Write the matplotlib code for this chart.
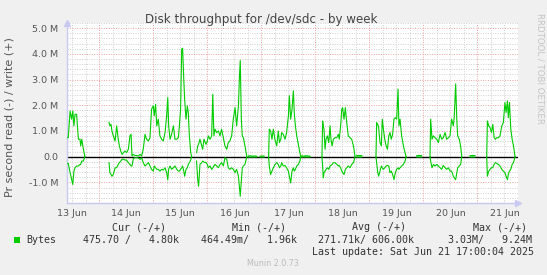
import numpy as np
import matplotlib
matplotlib.use("Agg")
import matplotlib.pyplot as plt
from matplotlib.patches import Rectangle

# Time in hours since 13 Jun 00:00. Throughput in MB/s (M = 1e6 bytes).
# write is drawn above zero, read is drawn mirrored below zero.
jun13_t = [9.5, 10.2, 11.0, 11.4, 11.7, 12.2, 12.7, 13.2, 13.9, 14.7, 15.4, 15.7, 16.2, 16.9, 17.6]
jun13_write = [0.74, 0.74, 1.78, 1.59, 1.46, 1.78, 1.20, 1.65, 1.65, 0.68, 0.68, 0.42, 0.68, 0.29, 0.0]
jun13_read = [0.26, 0.26, 0.62, 0.76, 0.89, 1.08, 0.56, 0.43, 0.36, 0.36, 0.30, 0.30, 0.17, 0.17, 0.0]

jun14_t = [28.3, 28.7, 29.2, 29.6, 30.2, 31.0, 31.7, 32.4, 32.9, 33.5, 34.1, 34.7, 35.4, 36.1, 36.9,
           37.6, 38.1, 38.5, 39.1, 39.8, 40.6, 41.3, 42.1, 42.8,
           43.5, 44.3, 45.0, 45.8, 46.5, 47.2, 48.0, 48.4, 49.0, 49.5, 50.2, 50.9, 51.7, 52.4, 53.2,
           53.9, 54.4, 54.8, 55.4, 56.1, 56.9, 57.6, 58.4, 59.1, 59.5, 60.1, 60.6, 61.0, 61.5, 61.9,
           62.5, 63.1, 63.5, 64.0, 64.6, 65.0]
jun14_write = [1.33, 1.20, 1.26, 1.00, 0.81, 0.61, 1.20, 0.68, 0.42, 0.22, 0.09, 0.16, 0.22, 0.16, 0.29,
               0.81, 0.87, 0.03, 0.09, 0.05, 0.05, 0.03, 0.09, 0.03,
               0.29, 0.87, 0.68, 0.61, 0.74, 1.85, 1.98, 1.59, 2.04, 1.20, 1.46, 0.81, 0.68, 0.61, 0.94,
               1.59, 2.30, 1.20, 0.68, 0.87, 1.20, 0.68, 0.68, 0.74, 1.13, 1.85, 4.19, 4.22, 3.02, 2.24,
               1.46, 1.98, 1.72, 0.81, 0.16, 0.0]
jun14_read = [0.23, 0.62, 0.69, 0.76, 0.69, 0.43, 0.43, 0.30, 0.23, 0.17, 0.10, 0.10, 0.13, 0.13, 0.23,
              0.30, 0.36, 0.36, 0.08, 0.04, 0.04, 0.05, 0.10, 0.04,
              0.23, 0.36, 0.30, 0.23, 0.36, 0.49, 0.56, 0.36, 0.43, 0.49, 0.49, 0.56, 0.49, 0.52, 0.43,
              0.62, 0.90, 0.49, 0.36, 0.49, 0.43, 0.36, 0.49, 0.56, 0.56, 0.49, 0.43, 0.36, 0.56, 0.76,
              0.49, 0.43, 0.30, 0.23, 0.13, 0.0]

jun16_t = [67.2, 67.7, 68.1, 68.7, 69.5, 69.9, 70.5, 71.4, 72.0, 72.4, 73.2, 73.9, 74.4, 74.9, 75.4,
           76.1, 76.9, 77.6, 78.3, 79.1, 79.8, 80.6, 81.3, 82.0, 82.8, 83.5, 84.3, 85.0, 85.8, 86.2,
           86.6, 87.1, 87.5, 88.0, 88.7, 89.5]
jun16_write = [0.16, 0.42, 0.48, 0.68, 0.42, 0.29, 0.68, 0.48, 0.61, 0.81, 0.68, 0.81, 2.43, 0.81, 1.07,
               0.94, 1.00, 0.81, 1.07, 0.74, 0.42, 0.29, 0.55, 0.61, 0.81, 1.46, 1.91, 1.20, 1.98, 3.02,
               3.74, 1.46, 0.81, 0.74, 0.42, 0.0]
jun16_read = [0.17, 0.89, 1.15, 0.30, 0.23, 0.17, 0.21, 0.23, 0.30, 0.43, 0.36, 0.49, 0.43, 0.36, 0.30,
              0.36, 0.43, 0.30, 0.23, 0.36, 0.04, 0.10, 0.43, 0.49, 0.43, 0.49, 0.62, 0.49, 0.76, 1.15,
              1.54, 0.89, 0.43, 0.36, 0.30, 0.0]

jun17_t = [99.2, 99.5, 100.1, 100.7, 101.3, 102.0, 102.8, 103.5, 104.0, 104.6, 105.0, 105.7, 106.5,
           107.2, 108.0, 108.4, 109.0, 109.6, 110.2, 110.6, 111.1, 111.7, 112.4, 113.1, 113.5]
jun17_write = [0.0, 1.07, 1.00, 0.68, 1.07, 0.68, 0.42, 1.00, 0.55, 0.68, 0.94, 0.87, 0.68,
               0.94, 1.59, 2.37, 1.46, 1.85, 2.56, 1.72, 1.20, 0.81, 0.48, 0.16, 0.0]
jun17_read = [0.0, 0.36, 0.69, 0.56, 0.43, 0.30, 0.23, 0.30, 0.43, 0.36, 0.23, 0.36, 0.34,
              0.43, 0.56, 0.76, 1.02, 0.56, 0.43, 0.56, 0.49, 0.36, 0.30, 0.17, 0.0]

jun18_t = [122.9, 123.2, 123.5, 123.8, 124.3, 124.7, 125.3, 125.9, 126.5, 126.9, 127.4, 128.0, 128.7,
           129.5, 130.2, 130.6, 131.2, 131.7, 132.1, 132.7, 133.3, 133.9, 134.6, 135.4, 136.1, 136.9, 137.6]
jun18_write = [0.0, 1.39, 1.20, 1.07, 0.29, 0.68, 0.81, 0.55, 1.20, 0.68, 0.42, 0.68, 0.74,
               0.74, 0.87, 0.68, 1.20, 1.85, 1.91, 1.46, 1.91, 1.33, 0.81, 0.74, 0.68, 0.42, 0.0]
jun18_read = [0.0, 0.36, 0.82, 0.62, 0.56, 0.49, 0.43, 0.49, 0.36, 0.34, 0.30, 0.23, 0.23,
              0.30, 0.36, 0.34, 0.43, 0.56, 0.62, 0.69, 0.49, 0.43, 0.36, 0.43, 0.30, 0.23, 0.0]

jun19_t = [146.9, 147.2, 147.7, 148.1, 148.7, 149.3, 149.7, 150.2, 150.8, 151.4, 152.0, 152.6, 153.1,
           153.7, 154.3, 154.9, 155.5, 156.1, 156.7, 157.1, 157.6, 158.3, 159.1, 159.8, 160.3]
jun19_write = [0.0, 1.33, 1.26, 1.13, 0.55, 0.42, 1.46, 1.07, 0.68, 0.42, 0.29, 0.81, 0.94,
               0.68, 0.87, 1.46, 1.52, 1.46, 2.63, 1.20, 1.46, 0.81, 0.42, 0.16, 0.0]
jun19_read = [0.0, 0.23, 0.62, 0.76, 0.56, 0.36, 0.43, 0.49, 0.43, 0.36, 0.34, 0.36, 0.62,
              0.56, 0.69, 0.89, 0.62, 0.49, 0.43, 0.49, 0.43, 0.36, 0.30, 0.17, 0.0]

jun20_t = [170.9, 171.2, 171.8, 172.4, 173.1, 173.9, 174.6, 175.4, 176.1, 176.8, 177.6, 178.3, 179.1,
           179.8, 180.5, 181.3, 181.7, 182.3, 182.8, 183.2, 183.9, 184.5, 185.0]
jun20_write = [0.0, 1.46, 0.68, 0.81, 0.74, 0.68, 0.55, 0.87, 0.68, 0.74, 0.94, 0.68, 0.74,
               0.81, 1.46, 1.20, 1.59, 2.83, 1.46, 0.81, 0.68, 0.42, 0.0]
jun20_read = [0.0, 0.17, 0.43, 0.30, 0.36, 0.30, 0.36, 0.43, 0.49, 0.34, 0.43, 0.49, 0.43,
              0.56, 0.56, 0.76, 0.82, 0.89, 0.62, 0.43, 0.36, 0.30, 0.0]

jun21_t = [196.1, 196.4, 197.0, 197.6, 198.2, 198.8, 199.4, 200.0, 200.5, 201.3, 202.0, 202.8, 203.5,
           204.2, 204.7, 205.3, 205.7, 206.2, 206.8, 207.4, 208.0, 208.7]
jun21_write = [0.0, 1.39, 1.20, 1.13, 0.94, 1.26, 0.74, 0.68, 0.74, 0.74, 0.81, 1.20, 1.33,
               2.11, 1.72, 2.17, 1.52, 2.11, 1.07, 0.68, 0.42, 0.0]
jun21_read = [0.0, 0.76, 0.56, 0.49, 0.43, 0.43, 0.30, 0.23, 0.26, 0.30, 0.36, 0.49, 0.56,
              0.62, 0.76, 0.89, 0.69, 0.56, 0.49, 0.30, 0.23, 0.0]

# short idle periods with data close to zero
idle_t = [[90.2, 91.0, 92.0, 93.0, 93.9], [95.4, 96.3, 97.2], [113.9, 114.8, 115.7, 116.6, 117.6],
          [138.3, 139.5, 140.6], [165.0, 166.1, 167.2], [188.7, 189.8, 190.9]]
idle_write = [[0.03, 0.04, 0.02, 0.03, 0.02], [0.02, 0.03, 0.02], [0.03, 0.02, 0.04, 0.03, 0.02],
              [0.04, 0.05, 0.04], [0.04, 0.05, 0.04], [0.04, 0.05, 0.04]]
idle_read = [[0.01, 0.01, 0.01, 0.01, 0.01], [0.01, 0.01, 0.01], [0.01, 0.01, 0.01, 0.01, 0.01],
             [0.01, 0.01, 0.01], [0.01, 0.01, 0.01], [0.01, 0.01, 0.01]]

day_names = ["13 Jun", "14 Jun", "15 Jun", "16 Jun", "17 Jun", "18 Jun", "19 Jun", "20 Jun", "21 Jun"]
y_ticks = [-1.0, 0.0, 1.0, 2.0, 3.0, 4.0, 5.0]

legend_header = ["Cur (-/+)", "Min (-/+)", "Avg (-/+)", "Max (-/+)"]
legend_values = ["475.70 /   4.80k", "464.49m/   1.96k", "271.71k/ 606.00k", "3.03M/   9.24M"]

GREEN = "#00CC00"
W, H = 547, 275


def fx(px):
    return px / W


def fy(py):
    return 1 - py / H


blocks = [(jun13_t, jun13_write, jun13_read), (jun14_t, jun14_write, jun14_read),
          (jun16_t, jun16_write, jun16_read), (jun17_t, jun17_write, jun17_read),
          (jun18_t, jun18_write, jun18_read), (jun19_t, jun19_write, jun19_read),
          (jun20_t, jun20_write, jun20_read), (jun21_t, jun21_write, jun21_read)]
blocks += list(zip(idle_t, idle_write, idle_read))
blocks.sort(key=lambda b: b[0][0])

t_all, w_all, r_all = [], [], []
for t, w, r in blocks:
    t_all += list(t) + [np.nan]
    w_all += list(w) + [np.nan]
    r_all += list(r) + [np.nan]
t_all = np.array(t_all)
w_all = np.array(w_all)
r_all = -np.array(r_all)

fig = plt.figure(figsize=(W / 100, H / 100), dpi=100, facecolor="#F0F0F0")
ax = fig.add_axes([fx(66.7), fy(203), fx(518) - fx(66.7), fy(23) - fy(203)])
ax.set_facecolor("white")

x0, x1 = 9.5, 210.0
y0, y1 = -1.8, 5.2
ax.set_xlim(x0, x1)
ax.set_ylim(y0, y1)

# grid: minor gray every 6h / 0.2M, major red every day / 1M
dots = (0, (1, 1.5))
for h in np.arange(12, x1, 6):
    if h % 24:
        ax.axvline(h, color="#CFCFCF", lw=0.7, ls=dots, zorder=1)
for v in np.arange(-1.8, y1 + 0.01, 0.2):
    if abs(v - round(v)) > 0.01:
        ax.axhline(v, color="#CFCFCF", lw=0.7, ls=dots, zorder=1)
for h in np.arange(24, x1, 24):
    ax.axvline(h, color="#F0A0A0", lw=0.7, ls=dots, zorder=1)
for v in y_ticks:
    if v != 0:
        ax.axhline(v, color="#F0A0A0", lw=0.7, ls=dots, zorder=1)

ax.axhline(0, color="black", lw=1.0, zorder=2)
ax.plot(t_all, w_all, color=GREEN, lw=0.8, zorder=3)
ax.plot(t_all, r_all, color=GREEN, lw=0.8, zorder=3)

for s in ["top", "right"]:
    ax.spines[s].set_visible(False)
for s in ["left", "bottom"]:
    ax.spines[s].set_color("#C8C8F0")
    ax.spines[s].set_linewidth(1.0)
ax.plot([0], [1.0], marker="^", ms=4, color="#C8C8F0", transform=ax.transAxes, clip_on=False)
ax.plot([1.0], [0], marker=">", ms=4, color="#C8C8F0", transform=ax.transAxes, clip_on=False)

ax.set_yticks(y_ticks)
ax.set_yticklabels(["0.0" if v == 0 else f"{v:.1f} M" for v in y_ticks])
ax.set_xticks([12 + 24 * i for i in range(len(day_names))])
ax.set_xticklabels(day_names)
ax.tick_params(length=0, labelsize=6.8, colors="#555555", pad=4)
ax.tick_params(axis="y", pad=6)

fig.text(fx(261.5), fy(19), "Disk throughput for /dev/sdc - by week", ha="center", va="center",
         fontsize=8.6, color="#444444")
fig.text(fx(9.5), fy(117), "Pr second read (-) / write (+)", rotation=90, ha="center", va="center",
         fontsize=8, color="#555555")
fig.text(fx(540), fy(68), "RRDTOOL / TOBI OETIKER", rotation=270, ha="center", va="center",
         fontsize=6.2, color="#C4C4C4")

mono = dict(family="DejaVu Sans Mono", fontsize=7.2, color="#333333", va="center")
for x, s in zip([111.7, 232, 352, 473], legend_header):
    fig.text(fx(x), fy(227.3), s, ha="left", **mono)
fig.text(fx(26.7), fy(240), "Bytes", ha="left", **mono)
for x, s in zip([83, 201, 318, 448], legend_values):
    fig.text(fx(x), fy(240), s, ha="left", **mono)
fig.text(fx(312), fy(251.7), "Last update: Sat Jun 21 17:00:04 2025", ha="left", **mono)
fig.add_artist(Rectangle((fx(14), fy(243)), 6 / W, 6 / H, transform=fig.transFigure,
                         facecolor=GREEN, edgecolor="none"))
fig.text(fx(273), fy(264), "Munin 2.0.73", ha="center", va="center", fontsize=5.8, color="#BBBBBB")

fig.savefig("out.png", dpi=100, facecolor=fig.get_facecolor())
